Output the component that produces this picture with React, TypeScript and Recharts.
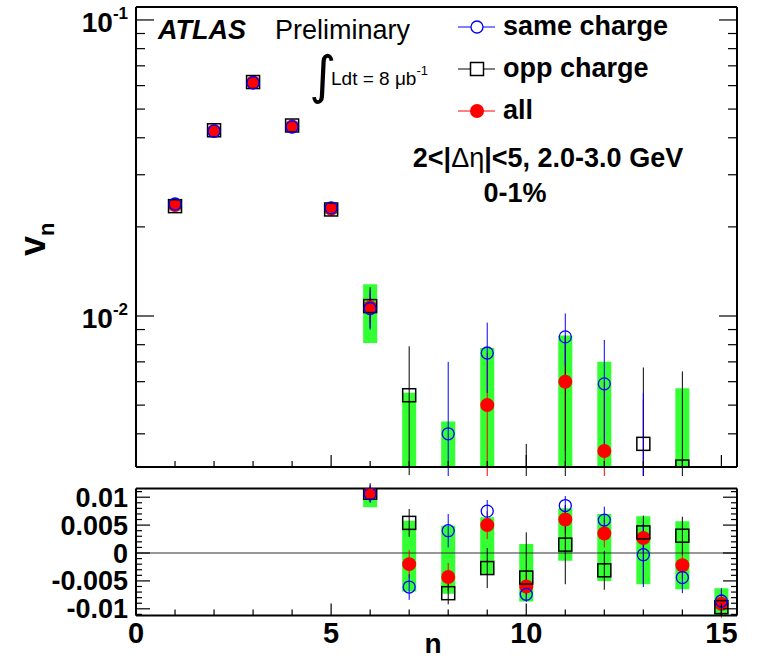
import React from "react";
import {
  ComposedChart,
  Scatter,
  XAxis,
  YAxis,
  ErrorBar,
  ReferenceArea,
  ReferenceLine,
  Legend,
} from "recharts";

// harmonic number n
const harmonics = [1, 2, 3, 4, 5, 6, 7, 8, 9, 10, 11, 12, 13, 14, 15];

// v_n for the three charge combinations
const sameCharge = [0.0239, 0.0421, 0.0613, 0.0435, 0.0232, 0.0106, -0.0061, 0.004, 0.0075, -0.0074, 0.0085, 0.0059, -0.0003, -0.0044, -0.0086];
const oppCharge = [0.0235, 0.0424, 0.0617, 0.044, 0.0229, 0.0108, 0.0054, -0.0072, -0.0027, -0.0044, 0.0015, -0.0031, 0.0037, 0.0031, -0.0097];
const allCharge = [0.0237, 0.0422, 0.0615, 0.0437, 0.023, 0.0107, -0.002, -0.0043, 0.005, -0.006, 0.006, 0.0035, 0.0027, -0.0022, -0.0091];

// statistical errors [down, up]
const sameErr: [number, number][] = [
  [0.0004, 0.0004], [0.0004, 0.0004], [0.0004, 0.0004], [0.0004, 0.0004], [0.0004, 0.0004],
  [0.0016, 0.0016], [0.0023, 0.0023], [0.003, 0.003], [0.002, 0.002], [0.0014, 0.0014],
  [0.0017, 0.0017], [0.0024, 0.0024], [0.0058, 0.0058], [0.0028, 0.0028], [0.0023, 0.0023],
];
const oppErr: [number, number][] = [
  [0.0004, 0.0004], [0.0004, 0.0004], [0.0004, 0.0004], [0.0004, 0.0004], [0.0004, 0.0004],
  [0.0017, 0.0017], [0.0025, 0.0025], [0.002, 0.002], [0.0036, 0.0036], [0.003, 0.0081],
  [0.0071, 0.0071], [0.0035, 0.0035], [0.0093, 0.003], [0.0034, 0.0034], [0.0015, 0.0015],
];
const allErr: [number, number][] = [
  [0.0003, 0.0003], [0.0003, 0.0003], [0.0003, 0.0003], [0.0003, 0.0003], [0.0003, 0.0003],
  [0.0012, 0.0012], [0.0025, 0.0025], [0.0025, 0.0025], [0.0025, 0.0025], [0.0025, 0.0025],
  [0.0025, 0.0025], [0.0025, 0.0025], [0.0025, 0.0025], [0.0025, 0.0025], [0.0025, 0.0025],
];

// systematic boxes (green), as they appear in the log panel and in the linear panel
const sysTopLow = [0.0227, 0.0413, 0.0605, 0.0427, 0.0221, 0.0081, -0.0069, -0.0073, -0.0039, null, -0.0014, -0.005, null, -0.0065, null];
const sysTopHigh = [0.0247, 0.0431, 0.0625, 0.0447, 0.0239, 0.0128, 0.0055, 0.0044, 0.0078, null, 0.0086, 0.007, null, 0.0057, null];
const sysBottomLow = [null, null, null, null, null, 0.0082, -0.0069, -0.0073, -0.0039, -0.0087, -0.0014, -0.005, -0.0056, -0.0065, -0.0118];
const sysBottomHigh = [null, null, null, null, null, 0.0128, 0.0058, 0.0049, 0.0064, 0.0016, 0.008, 0.007, 0.0066, 0.0057, -0.0063];

// axes
const xTicks = [0, 1, 2, 3, 4, 5, 6, 7, 8, 9, 10, 11, 12, 13, 14, 15];
const xMajors = [0, 5, 10, 15];
const xLabels = ["0", "5", "10", "15"];
const logTicks = [0.004, 0.005, 0.006, 0.007, 0.008, 0.009, 0.01, 0.02, 0.03, 0.04, 0.05, 0.06, 0.07, 0.08, 0.09, 0.1];
const logMajors = [0.01, 0.1];
const logExponents = ["-2", "-1"];
const linTicks = [
  -0.011, -0.01, -0.009, -0.008, -0.007, -0.006, -0.005, -0.004, -0.003, -0.002, -0.001, 0,
  0.001, 0.002, 0.003, 0.004, 0.005, 0.006, 0.007, 0.008, 0.009, 0.01, 0.011,
];
const linMajors = [-0.01, -0.005, 0, 0.005, 0.01];
const linLabels = ["-0.01", "-0.005", "0", "0.005", "0.01"];
const legendLabels = ["same charge", "opp charge", "all"];

const FONT = "'Liberation Sans', Arial, Helvetica, sans-serif";
const W = 763;
const TOP_H = 476;
const BOTTOM_H = 185;
const X_DOMAIN: [number, number] = [0, 15.4];
const LOG_DOMAIN: [number, number] = [0.00309, 0.1106];
const LIN_DOMAIN: [number, number] = [-0.0112, 0.01156];
const LOG_FLOOR = 0.001; // below the log panel, gets clipped
const BOX_HALF = 0.18;
const GREEN = "#33ff33";
const AXIS_LINE = { stroke: "#000", strokeWidth: 2 };

type Pt = { n: number; y: number; err: [number, number]; hidden: boolean };

const logPoints = (values: number[], errs: [number, number][]): Pt[] =>
  harmonics.map((n, i) => {
    const v = values[i];
    const y = Math.max(v, LOG_FLOOR);
    const lo = Math.max(v - errs[i][0], LOG_FLOOR);
    const hi = Math.max(v + errs[i][1], LOG_FLOOR);
    return { n, y, err: [y - lo, hi - y], hidden: v <= 0 };
  });

const linPoints = (values: number[], errs: [number, number][]): Pt[] =>
  harmonics.map((n, i) => ({ n, y: values[i], err: errs[i], hidden: false }));

const boxes = (low: (number | null)[], high: (number | null)[], floor?: number) =>
  harmonics.flatMap((n, i) => {
    const lo = low[i];
    const hi = high[i];
    if (lo == null || hi == null) return [];
    return [{ n, lo: floor != null ? Math.max(lo, floor) : lo, hi }];
  });

// markers
const SameMarker = (p: any) =>
  p.payload?.hidden ? <g /> : <circle cx={p.cx} cy={p.cy} r={6} fill="none" stroke="#0000ff" strokeWidth={1.3} />;
const OppMarker = (p: any) =>
  p.payload?.hidden ? <g /> : (
    <rect x={p.cx - 6.5} y={p.cy - 6.5} width={13} height={13} fill="none" stroke="#000" strokeWidth={1.5} />
  );
const AllMarker = (p: any) =>
  p.payload?.hidden ? <g /> : <circle cx={p.cx} cy={p.cy} r={7} fill="#ff0000" />;

// ticks drawn inside the frame, ROOT style
const XTick = ({ x = 0, y = 0, payload, dir, label }: any) => {
  const v = payload?.value;
  const k = xMajors.indexOf(v);
  const len = k >= 0 ? 12 : 6;
  return (
    <g>
      <line x1={x} y1={y} x2={x} y2={y + dir * len} stroke="#000" strokeWidth={1.2} />
      {label && k >= 0 && (
        <text x={x} y={y + 27} textAnchor="middle" fontFamily={FONT} fontWeight="bold" fontSize={29} fill="#000">
          {xLabels[k]}
        </text>
      )}
    </g>
  );
};

const LogTick = ({ x = 0, y = 0, payload, dir, label }: any) => {
  const k = logMajors.indexOf(payload?.value);
  const len = k >= 0 ? 18 : 9;
  return (
    <g>
      <line x1={x} y1={y} x2={x + dir * len} y2={y} stroke="#000" strokeWidth={1.2} />
      {label && k >= 0 && (
        <text x={x - 8} y={y + 12} textAnchor="end" fontFamily={FONT} fontWeight="bold" fontSize={28} fill="#000">
          10
          <tspan dy={-13} fontSize={17}>
            {logExponents[k]}
          </tspan>
        </text>
      )}
    </g>
  );
};

const LinTick = ({ x = 0, y = 0, payload, dir, label }: any) => {
  const k = linMajors.indexOf(payload?.value);
  const len = k >= 0 ? 14 : 6;
  return (
    <g>
      <line x1={x} y1={y} x2={x + dir * len} y2={y} stroke="#000" strokeWidth={1.2} />
      {label && k >= 0 && (
        <text x={x - 8} y={y + 9.5} textAnchor="end" fontFamily={FONT} fontWeight="bold" fontSize={27} fill="#000">
          {linLabels[k]}
        </text>
      )}
    </g>
  );
};

const ChargeLegend = () => (
  <svg width={300} height={130}>
    {legendLabels.map((lab, i) => {
      const cy = 22 + i * 42;
      const color = i === 0 ? "#0000ff" : i === 1 ? "#000" : "#ff0000";
      return (
        <g key={lab}>
          <line x1={8} y1={cy} x2={45} y2={cy} stroke={color} strokeWidth={1} />
          {i === 0 && <circle cx={27} cy={cy} r={6} fill="#fff" stroke={color} strokeWidth={1.3} />}
          {i === 1 && <rect x={20.5} y={cy - 6.5} width={13} height={13} fill="#fff" stroke={color} strokeWidth={1.5} />}
          {i === 2 && <circle cx={27} cy={cy} r={7} fill={color} />}
          <text x={53} y={cy + 8} fontFamily={FONT} fontWeight="bold" fontSize={27} fill="#000">
            {lab}
          </text>
        </g>
      );
    })}
  </svg>
);

const series = (same: Pt[], opp: Pt[], all: Pt[]) => [
  <Scatter key="all" data={all} shape={AllMarker} isAnimationActive={false}>
    <ErrorBar dataKey="err" direction="y" width={0} stroke="#ff0000" strokeWidth={1} />
  </Scatter>,
  <Scatter key="opp" data={opp} shape={OppMarker} isAnimationActive={false}>
    <ErrorBar dataKey="err" direction="y" width={0} stroke="#000" strokeWidth={1} />
  </Scatter>,
  <Scatter key="same" data={same} shape={SameMarker} isAnimationActive={false}>
    <ErrorBar dataKey="err" direction="y" width={0} stroke="#0000ff" strokeWidth={1} />
  </Scatter>,
];

// the four frame axes of one panel (axis boxes are 1px, the rest is margin)
const frameAxes = (yProps: any, YTick: any, withXLabels: boolean) => [
  <XAxis
    key="xb"
    type="number"
    dataKey="n"
    domain={X_DOMAIN}
    ticks={xTicks}
    interval={0}
    allowDataOverflow
    height={1}
    tickSize={0}
    tickMargin={0}
    tickLine={false}
    axisLine={AXIS_LINE}
    tick={(p: any) => <XTick {...p} dir={-1} label={withXLabels} />}
  />,
  <XAxis
    key="xt"
    xAxisId="top"
    orientation="top"
    type="number"
    domain={X_DOMAIN}
    ticks={xTicks}
    interval={0}
    allowDataOverflow
    height={1}
    tickSize={0}
    tickMargin={0}
    tickLine={false}
    axisLine={AXIS_LINE}
    tick={(p: any) => <XTick {...p} dir={1} />}
  />,
  <YAxis
    key="yl"
    type="number"
    dataKey="y"
    {...yProps}
    interval={0}
    allowDataOverflow
    width={1}
    tickSize={0}
    tickMargin={0}
    tickLine={false}
    axisLine={AXIS_LINE}
    tick={(p: any) => <YTick {...p} dir={1} label />}
  />,
  <YAxis
    key="yr"
    yAxisId="right"
    orientation="right"
    type="number"
    {...yProps}
    interval={0}
    allowDataOverflow
    width={1}
    tickSize={0}
    tickMargin={0}
    tickLine={false}
    axisLine={AXIS_LINE}
    tick={(p: any) => <YTick {...p} dir={-1} />}
  />,
];

export default function App() {
  const topBoxes = boxes(sysTopLow, sysTopHigh, LOG_FLOOR);
  const bottomBoxes = boxes(sysBottomLow, sysBottomHigh);

  return (
    <div style={{ position: "absolute", left: 0, top: 0, width: W, height: TOP_H + BOTTOM_H, background: "#fff" }}>
      {/* upper panel: v_n on a log scale */}
      <ComposedChart width={W} height={TOP_H} margin={{ top: 6, right: 25, bottom: 8, left: 135 }}>
        {frameAxes({ scale: "log", domain: LOG_DOMAIN, ticks: logTicks }, LogTick, false)}
        {topBoxes.map((b) => (
          <ReferenceArea
            key={`tb-${b.n}`}
            x1={b.n - BOX_HALF}
            x2={b.n + BOX_HALF}
            y1={b.lo}
            y2={b.hi}
            fill={GREEN}
            fillOpacity={1}
            stroke="none"
            ifOverflow="hidden"
          />
        ))}
        {series(logPoints(sameCharge, sameErr), logPoints(oppCharge, oppErr), logPoints(allCharge, allErr))}
        <Legend
          layout="vertical"
          align="center"
          verticalAlign="middle"
          wrapperStyle={{ left: 450, top: 5, width: 300, height: 130 }}
          content={() => <ChargeLegend />}
        />
        <text transform="translate(45,256) rotate(-90)" fontFamily={FONT} fontWeight="bold" fontSize={36} fill="#000">
          v<tspan dy={9} fontSize={22}>n</tspan>
        </text>
        <text x={158} y={39} fontFamily={FONT} fontStyle="italic" fontWeight="bold" fontSize={27} fill="#000">
          ATLAS
        </text>
        <text x={275} y={39} fontFamily={FONT} fontSize={27} fill="#000">
          Preliminary
        </text>
        <text x={309} y={93} fontFamily="'DejaVu Sans'" fontSize={52} fill="#000">
          ∫
        </text>
        <text x={331} y={85} fontFamily={FONT} fontSize={19} fill="#000">
          Ldt = 8 μb<tspan dy={-10} fontSize={13}>-1</tspan>
        </text>
        <text x={548} y={167} textAnchor="middle" fontFamily={FONT} fontWeight="bold" fontSize={27} fill="#000">
          2&lt;|<tspan fontWeight="normal">Δη</tspan>|&lt;5, 2.0-3.0 GeV
        </text>
        <text x={515} y={202} textAnchor="middle" fontFamily={FONT} fontWeight="bold" fontSize={27} fill="#000">
          0-1%
        </text>
      </ComposedChart>

      {/* lower panel: same values on a linear scale around zero */}
      <ComposedChart width={W} height={BOTTOM_H} margin={{ top: 11.5, right: 25, bottom: 44.5, left: 135 }}>
        {frameAxes({ domain: LIN_DOMAIN, ticks: linTicks }, LinTick, true)}
        {bottomBoxes.map((b) => (
          <ReferenceArea
            key={`bb-${b.n}`}
            x1={b.n - BOX_HALF}
            x2={b.n + BOX_HALF}
            y1={b.lo}
            y2={b.hi}
            fill={GREEN}
            fillOpacity={1}
            stroke="none"
            ifOverflow="hidden"
          />
        ))}
        <ReferenceLine y={0} stroke="#333" strokeWidth={1.2} />
        {series(linPoints(sameCharge, sameErr), linPoints(oppCharge, oppErr), linPoints(allCharge, allErr))}
        <text x={433} y={177} textAnchor="middle" fontFamily={FONT} fontWeight="bold" fontSize={28} fill="#000">
          n
        </text>
      </ComposedChart>
    </div>
  );
}
